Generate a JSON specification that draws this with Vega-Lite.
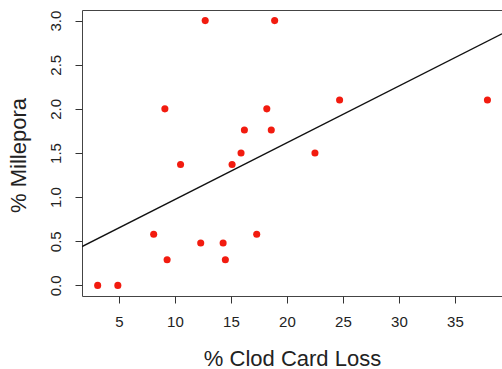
{
  "$schema": "https://vega.github.io/schema/vega-lite/v6.json",
  "width": 420,
  "height": 286,
  "autosize": {"type": "none"},
  "padding": {"left": 82, "top": 10, "right": 0, "bottom": 73},
  "background": "white",
  "config": {
    "view": {"stroke": "#444", "strokeWidth": 1},
    "font": "Liberation Sans",
    "axis": {"grid": false, "domain": false, "tickColor": "#333", "tickSize": 7, "labelColor": "#222", "titleColor": "#222", "labelFont": "Liberation Sans", "titleFont": "Liberation Sans", "labelFontSize": 15, "titleFontSize": 22, "titleFontWeight": "normal"}
  },
  "datasets": {
    "pts": [
      {"loss": 3.1, "mill": 0.0},
      {"loss": 4.9, "mill": 0.0},
      {"loss": 8.1, "mill": 0.58},
      {"loss": 9.1, "mill": 2.0},
      {"loss": 9.3, "mill": 0.29},
      {"loss": 10.5, "mill": 1.37},
      {"loss": 12.3, "mill": 0.48},
      {"loss": 12.7, "mill": 3.0},
      {"loss": 14.3, "mill": 0.48},
      {"loss": 14.5, "mill": 0.29},
      {"loss": 15.1, "mill": 1.37},
      {"loss": 15.9, "mill": 1.5},
      {"loss": 16.2, "mill": 1.76},
      {"loss": 17.3, "mill": 0.58},
      {"loss": 18.2, "mill": 2.0},
      {"loss": 18.6, "mill": 1.76},
      {"loss": 18.9, "mill": 3.0},
      {"loss": 22.5, "mill": 1.5},
      {"loss": 24.7, "mill": 2.1},
      {"loss": 37.9, "mill": 2.1}
    ],
    "fit": [
      {"loss": 1.7, "mill": 0.44},
      {"loss": 39.2, "mill": 2.85}
    ]
  },
  "layer": [
    {
      "data": {"name": "fit"},
      "mark": {"type": "line", "color": "#111", "strokeWidth": 1.4, "clip": true},
      "encoding": {
        "x": {"field": "loss", "type": "quantitative"},
        "y": {"field": "mill", "type": "quantitative"}
      }
    },
    {
      "data": {"name": "pts"},
      "mark": {"type": "circle", "color": "#f21b0f", "opacity": 1, "size": 50},
      "encoding": {
        "x": {
          "field": "loss", "type": "quantitative",
          "scale": {"domain": [1.7, 39.2], "nice": false, "zero": false},
          "axis": {"values": [5, 10, 15, 20, 25, 30, 35], "title": "% Clod Card Loss", "labelPadding": 11, "titleBaseline": "alphabetic", "titleY": 69}
        },
        "y": {
          "field": "mill", "type": "quantitative",
          "scale": {"domain": [-0.12, 3.12], "nice": false, "zero": false},
          "axis": {"values": [0, 0.5, 1, 1.5, 2, 2.5, 3], "format": ".1f", "title": "% Millepora", "labelAngle": -90, "labelAlign": "center", "labelBaseline": "alphabetic", "labelPadding": 15, "titleAngle": -90, "titleBaseline": "alphabetic", "titleAlign": "center", "titleX": -57, "titleY": 145}
        }
      }
    }
  ]
}
